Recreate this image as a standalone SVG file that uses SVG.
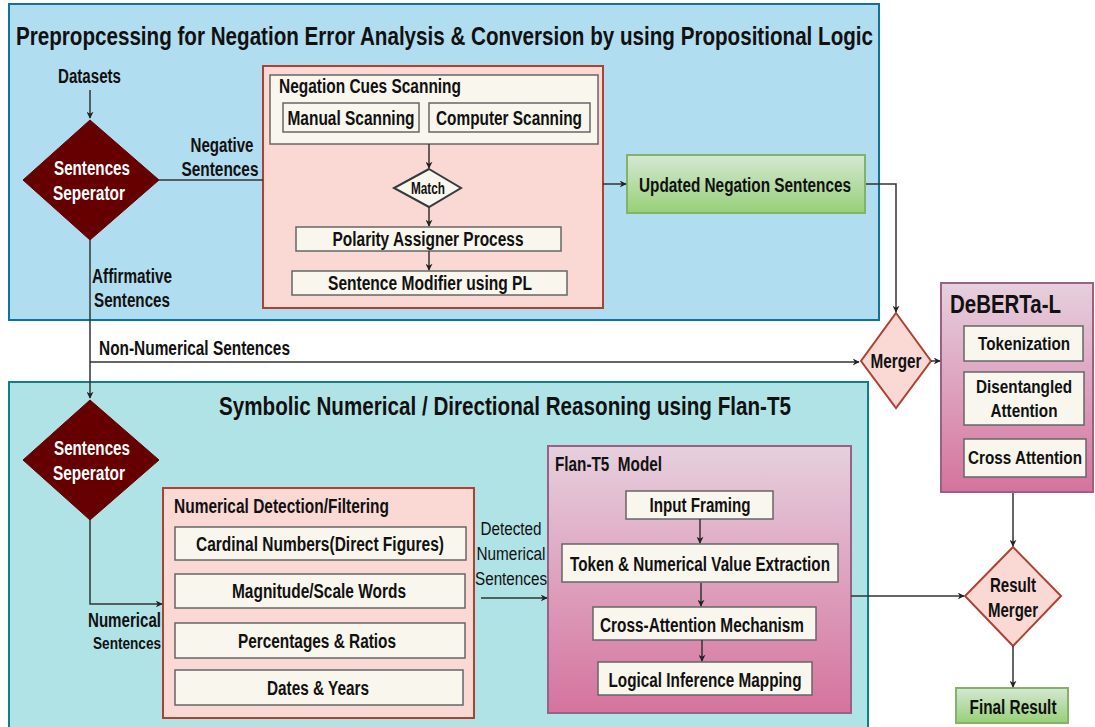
<svg xmlns="http://www.w3.org/2000/svg" width="1095" height="727" viewBox="0 0 1095 727">
<defs>
<linearGradient id="gPink" x1="0" y1="0" x2="0" y2="1"><stop offset="0" stop-color="#e6d0de"/><stop offset="1" stop-color="#d5739d"/></linearGradient>
<linearGradient id="gGreen" x1="0" y1="0" x2="0" y2="1"><stop offset="0" stop-color="#d5e8d4"/><stop offset="1" stop-color="#97d077"/></linearGradient>
<marker id="arr" viewBox="0 0 10 10" refX="9" refY="5" markerWidth="7" markerHeight="7" orient="auto" markerUnits="userSpaceOnUse"><path d="M0,0 L10,5 L0,10 L3,5 z" fill="#222"/></marker>
<style>
text{font-family:"Liberation Sans Narrow","Liberation Sans",Arial,sans-serif;font-weight:bold;fill:#111;}
.t{font-size:26px;}
.l{font-size:20px;}
.k{font-size:18px;}
.s{font-size:17px;}
.w{fill:#fff;}
.n{font-weight:normal;}
.m{text-anchor:middle;}
.blue{fill:#b1ddf0;stroke:#10739e;stroke-width:2;}
.teal{fill:#b0e3e6;stroke:#0e8088;stroke-width:2;}
.pink{fill:#fad9d5;stroke:#ae4132;stroke-width:2;}
.mauve{fill:url(#gPink);stroke:#996185;stroke-width:2;}
.green{fill:url(#gGreen);stroke:#82b366;stroke-width:2;}
.cream{fill:#f9f7ed;stroke:#666;stroke-width:1.5;}
.dark{fill:#660000;stroke:#660000;}
.c{fill:none;stroke:#333;stroke-width:1.5;}
</style>
</defs>

<g id="preprocessing">
<rect class="blue" x="9" y="4" width="870" height="316"/>
<text class="t m" x="444.5" y="45" textLength="857" lengthAdjust="spacingAndGlyphs">Prepropcessing for Negation Error Analysis &amp; Conversion by using Propositional Logic</text>
</g>
<g id="symbolic">
<rect class="teal" x="9" y="382" width="859" height="350"/>
<text class="t m" x="505" y="415" textLength="572" lengthAdjust="spacingAndGlyphs">Symbolic Numerical / Directional Reasoning using Flan-T5</text>
</g>

<g id="labels">
<text class="l m" x="89.5" y="83" textLength="63" lengthAdjust="spacingAndGlyphs">Datasets</text>
<text class="l m" x="222" y="152" textLength="63" lengthAdjust="spacingAndGlyphs">Negative</text>
<text class="l m" x="220" y="176" textLength="77" lengthAdjust="spacingAndGlyphs">Sentences</text>
<text class="l m" x="132" y="283" textLength="80" lengthAdjust="spacingAndGlyphs">Affirmative</text>
<text class="l m" x="132" y="307" textLength="76" lengthAdjust="spacingAndGlyphs">Sentences</text>
<text class="l" x="99" y="355" textLength="191" lengthAdjust="spacingAndGlyphs">Non-Numerical Sentences</text>
<text class="l" x="161" y="627" text-anchor="end" textLength="73" lengthAdjust="spacingAndGlyphs">Numerical</text>
<text class="s" x="161" y="649" text-anchor="end" textLength="68" lengthAdjust="spacingAndGlyphs">Sentences</text>
<text class="k n m" x="511" y="535" textLength="61" lengthAdjust="spacingAndGlyphs">Detected</text>
<text class="k n m" x="511" y="560" textLength="69" lengthAdjust="spacingAndGlyphs">Numerical</text>
<text class="k n m" x="511" y="585" textLength="72" lengthAdjust="spacingAndGlyphs">Sentences</text>
</g>

<g id="separator1">
<polygon class="dark" points="90,120 159,180 90,240 23,180"/>
<text class="l w m" x="92" y="175" textLength="76" lengthAdjust="spacingAndGlyphs">Sentences</text>
<text class="l w m" x="89" y="200" textLength="72" lengthAdjust="spacingAndGlyphs">Seperator</text>
</g>

<g id="negation-process">
<rect class="pink" x="263" y="66" width="340" height="242"/>
</g>
<g id="negation-cues">
<rect class="cream" x="270" y="75" width="328" height="69"/>
<text class="l" x="279" y="93" textLength="182" lengthAdjust="spacingAndGlyphs">Negation Cues Scanning</text>
</g>
<g id="manual-scanning">
<rect class="cream" x="283" y="103" width="136" height="29"/>
<text class="l m" x="351" y="125" textLength="127" lengthAdjust="spacingAndGlyphs">Manual Scanning</text>
</g>
<g id="computer-scanning">
<rect class="cream" x="429" y="103" width="161" height="29"/>
<text class="l m" x="509" y="125" textLength="146" lengthAdjust="spacingAndGlyphs">Computer Scanning</text>
</g>
<g id="match">
<polygon points="429,169 461,188 429,207 394,188" fill="#f9f7ed" stroke="#36393d" stroke-width="2"/>
<text class="s m" x="428" y="194" textLength="34" lengthAdjust="spacingAndGlyphs">Match</text>
</g>
<g id="polarity">
<rect class="cream" x="296" y="227" width="265" height="24"/>
<text class="l m" x="428" y="246" textLength="191" lengthAdjust="spacingAndGlyphs">Polarity Assigner Process</text>
</g>
<g id="modifier">
<rect class="cream" x="292" y="271" width="275" height="24"/>
<text class="l m" x="430" y="290" textLength="204" lengthAdjust="spacingAndGlyphs">Sentence Modifier using PL</text>
</g>

<g id="updated-negation">
<rect class="green" x="627" y="155" width="238" height="58"/>
<text class="l m" x="745" y="192" textLength="212" lengthAdjust="spacingAndGlyphs">Updated Negation Sentences</text>
</g>

<g id="merger">
<polygon points="896,313 931,361 896,408 861,361" fill="#fad9d5" stroke="#ae4132" stroke-width="2"/>
<text class="l m" x="896" y="368" textLength="51" lengthAdjust="spacingAndGlyphs">Merger</text>
</g>

<g id="deberta">
<rect class="mauve" x="941" y="283" width="152" height="209"/>
<text class="t" x="950" y="313" textLength="111" lengthAdjust="spacingAndGlyphs">DeBERTa-L</text>
</g>
<g id="tokenization">
<rect class="cream" x="964" y="326" width="119" height="35"/>
<text class="k m" x="1024" y="350" textLength="92" lengthAdjust="spacingAndGlyphs">Tokenization</text>
</g>
<g id="disentangled">
<rect class="cream" x="964" y="372" width="120" height="53"/>
<text class="k m" x="1024" y="393" textLength="96" lengthAdjust="spacingAndGlyphs">Disentangled</text>
<text class="k m" x="1024" y="417" textLength="67" lengthAdjust="spacingAndGlyphs">Attention</text>
</g>
<g id="cross-attention">
<rect class="cream" x="964" y="439" width="122" height="38"/>
<text class="k m" x="1025" y="464" textLength="114" lengthAdjust="spacingAndGlyphs">Cross Attention</text>
</g>

<g id="separator2">
<polygon class="dark" points="90,400 159,460 90,520 23,460"/>
<text class="l w m" x="92" y="455" textLength="76" lengthAdjust="spacingAndGlyphs">Sentences</text>
<text class="l w m" x="89" y="480" textLength="72" lengthAdjust="spacingAndGlyphs">Seperator</text>
</g>

<g id="numerical-detection">
<rect class="pink" x="163" y="488" width="311" height="230"/>
<text class="l" x="174" y="513" textLength="215" lengthAdjust="spacingAndGlyphs">Numerical Detection/Filtering</text>
</g>
<g id="cardinal">
<rect class="cream" x="175" y="527" width="291" height="33"/>
<text class="l m" x="320" y="551" textLength="248" lengthAdjust="spacingAndGlyphs">Cardinal Numbers(Direct Figures)</text>
</g>
<g id="magnitude">
<rect class="cream" x="175" y="574" width="290" height="34"/>
<text class="l m" x="319" y="598" textLength="174" lengthAdjust="spacingAndGlyphs">Magnitude/Scale Words</text>
</g>
<g id="percentages">
<rect class="cream" x="175" y="623" width="290" height="35"/>
<text class="l m" x="317" y="648" textLength="158" lengthAdjust="spacingAndGlyphs">Percentages &amp; Ratios</text>
</g>
<g id="dates">
<rect class="cream" x="175" y="670" width="288" height="35"/>
<text class="l m" x="318" y="695" textLength="102" lengthAdjust="spacingAndGlyphs">Dates &amp; Years</text>
</g>

<g id="flan-t5">
<rect class="mauve" x="548" y="446" width="303" height="267"/>
<text class="l" x="555" y="471" textLength="107" lengthAdjust="spacingAndGlyphs" xml:space="preserve">Flan-T5  Model</text>
</g>
<g id="input-framing">
<rect class="cream" x="626" y="491" width="147" height="28"/>
<text class="l m" x="700" y="512" textLength="101" lengthAdjust="spacingAndGlyphs">Input Framing</text>
</g>
<g id="token-extraction">
<rect class="cream" x="562" y="544" width="276" height="38"/>
<text class="l m" x="700" y="571" textLength="260" lengthAdjust="spacingAndGlyphs">Token &amp; Numerical Value Extraction</text>
</g>
<g id="cross-attention-mechanism">
<rect class="cream" x="593" y="607" width="223" height="33"/>
<text class="l m" x="702" y="632" textLength="204" lengthAdjust="spacingAndGlyphs">Cross-Attention Mechanism</text>
</g>
<g id="logical-inference">
<rect class="cream" x="598" y="662" width="214" height="33"/>
<text class="l m" x="705" y="687" textLength="193" lengthAdjust="spacingAndGlyphs">Logical Inference Mapping</text>
</g>

<g id="result-merger">
<polygon points="1013,547 1061,596 1013,646 965,596" fill="#fad9d5" stroke="#ae4132" stroke-width="2"/>
<text class="l m" x="1013" y="592" textLength="46" lengthAdjust="spacingAndGlyphs">Result</text>
<text class="l m" x="1013" y="617" textLength="50" lengthAdjust="spacingAndGlyphs">Merger</text>
</g>
<g id="final-result">
<rect class="green" x="956" y="688" width="112" height="35"/>
<text class="l m" x="1013" y="714" textLength="87" lengthAdjust="spacingAndGlyphs">Final Result</text>
</g>

<g id="connectors">
<path class="c" d="M90,90 L90,118" marker-end="url(#arr)"/>
<path class="c" d="M159,180 L263,180"/>
<path class="c" d="M90,240 L90,398" marker-end="url(#arr)"/>
<path class="c" d="M90,362 L859,362" marker-end="url(#arr)"/>
<path class="c" d="M429,144 L429,168" marker-end="url(#arr)"/>
<path class="c" d="M429,207 L429,226" marker-end="url(#arr)"/>
<path class="c" d="M429,251 L429,270" marker-end="url(#arr)"/>
<path class="c" d="M603,184 L626,184" marker-end="url(#arr)"/>
<path class="c" d="M866,184 L896,184 L896,312" marker-end="url(#arr)"/>
<path class="c" d="M931,361 L940,361" marker-end="url(#arr)"/>
<path class="c" d="M90,520 L90,604 L162,604" marker-end="url(#arr)"/>
<path class="c" d="M481,598 L547,598" marker-end="url(#arr)"/>
<path class="c" d="M700,519 L700,543" marker-end="url(#arr)"/>
<path class="c" d="M701,583 L701,606" marker-end="url(#arr)"/>
<path class="c" d="M702,640 L702,661" marker-end="url(#arr)"/>
<path class="c" d="M851,596 L964,596" marker-end="url(#arr)"/>
<path class="c" d="M1013,493 L1013,546" marker-end="url(#arr)"/>
<path class="c" d="M1013,646 L1013,687" marker-end="url(#arr)"/>
</g>
</svg>
